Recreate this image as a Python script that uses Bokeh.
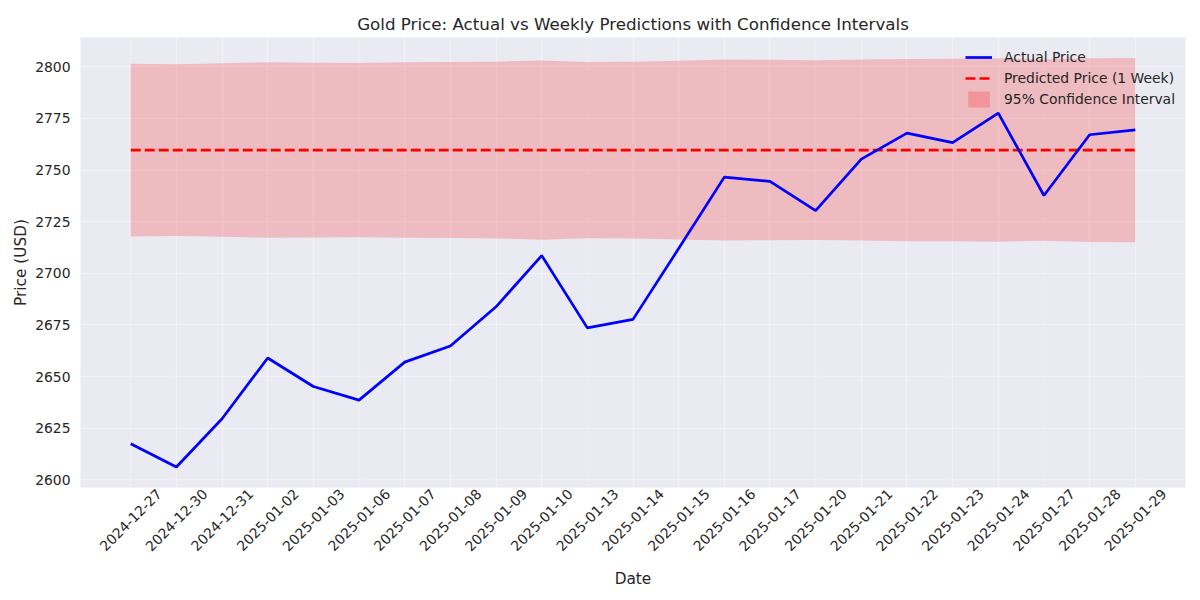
import math
from bokeh.plotting import figure
from bokeh.models import (Range1d, FixedTicker, LinearAxis, Grid, Legend, LegendItem,
                          ColumnDataSource)
from bokeh.embed import file_html
from bokeh.resources import INLINE

dates = ["2024-12-27", "2024-12-30", "2024-12-31", "2025-01-02", "2025-01-03", "2025-01-06",
         "2025-01-07", "2025-01-08", "2025-01-09", "2025-01-10", "2025-01-13", "2025-01-14",
         "2025-01-15", "2025-01-16", "2025-01-17", "2025-01-20", "2025-01-21", "2025-01-22",
         "2025-01-23", "2025-01-24", "2025-01-27", "2025-01-28", "2025-01-29"]
actual = [2617.5, 2606.2, 2629.6, 2659.0, 2645.2, 2638.6, 2657.0, 2664.8, 2683.8, 2708.6,
          2673.6, 2677.7, 2712.0, 2746.6, 2744.5, 2730.4, 2755.3, 2767.9, 2763.3, 2777.6,
          2737.7, 2767.1, 2769.5]
predicted = [2759.7, 2759.7, 2759.7, 2759.7, 2759.7, 2759.7, 2759.7, 2759.7, 2759.7, 2759.7,
             2759.7, 2759.7, 2759.7, 2759.7, 2759.7, 2759.7, 2759.7, 2759.7, 2759.7, 2759.7,
             2759.7, 2759.7, 2759.7]
ci_upper = [2801.5, 2801.3, 2801.7, 2802.2, 2802.0, 2801.9, 2802.2, 2802.3, 2802.5, 2803.1,
            2802.4, 2802.5, 2803.0, 2803.5, 2803.4, 2803.2, 2803.5, 2803.8, 2803.9, 2804.1,
            2803.6, 2804.2, 2804.3]
ci_lower = [2717.9, 2718.1, 2717.7, 2717.2, 2717.4, 2717.5, 2717.2, 2717.1, 2716.9, 2716.3,
            2717.0, 2716.9, 2716.4, 2715.9, 2716.0, 2716.2, 2715.9, 2715.6, 2715.5, 2715.3,
            2715.8, 2715.2, 2715.1]
y_ticks = [2600, 2625, 2650, 2675, 2700, 2725, 2750, 2775, 2800]

idx = list(range(len(dates)))
src = ColumnDataSource(dict(x=idx, actual=actual, pred=predicted, up=ci_upper, lo=ci_lower))

FONT = "DejaVu Sans"
TXT = "#262626"

n = len(dates) - 1
xpad = 0.05 * n
ymin = min(actual + ci_lower)
ymax = max(actual + ci_upper)
ypad = 0.05 * (ymax - ymin)

p = figure(width=1200, height=600, output_backend="svg", toolbar_location=None,
           x_range=Range1d(-xpad, n + xpad), y_range=Range1d(ymin - ypad, ymax + ypad),
           x_axis_location=None,
           min_border_left=80, min_border_right=15, min_border_top=37, min_border_bottom=113)
p.background_fill_color = "#EAEAF2"
p.border_fill_color = "white"
p.outline_line_color = None

p.title.text = "Gold Price: Actual vs Weekly Predictions with Confidence Intervals"
p.title.align = "center"
p.title.text_font = FONT
p.title.text_font_size = "16.7px"
p.title.text_font_style = "normal"
p.title.text_color = TXT
p.title.standoff = 8

# label axis, shifted so that rotated labels are centred on their ticks
d = 0.626
p.extra_x_ranges = {"lbl": Range1d(-xpad - d, n + xpad - d)}
xa = LinearAxis(x_range_name="lbl", ticker=FixedTicker(ticks=idx))
xa.major_label_overrides = {i: s for i, s in enumerate(dates)}
xa.major_label_orientation = math.pi / 4
xa.axis_label = "Date"
p.add_layout(xa, "below")

for ax in [xa, p.yaxis[0]]:
    ax.axis_line_color = None
    ax.major_tick_line_color = None
    ax.minor_tick_line_color = None
    ax.major_tick_out = 0
    ax.major_tick_in = 0
    ax.major_label_text_font = FONT
    ax.major_label_text_font_size = "13.9px"
    ax.major_label_text_color = TXT
    ax.axis_label_text_font = FONT
    ax.axis_label_text_font_size = "15.3px"
    ax.axis_label_text_font_style = "normal"
    ax.axis_label_text_color = TXT
xa.major_label_standoff = 4
xa.axis_label_standoff = 11

p.yaxis.ticker = FixedTicker(ticks=y_ticks)
p.yaxis.axis_label = "Price (USD)"
p.yaxis.major_label_standoff = 10
p.yaxis.axis_label_standoff = 2

p.ygrid.grid_line_color = "white"
p.ygrid.grid_line_alpha = 0.35
p.ygrid.grid_line_width = 1.4
xg = Grid(dimension=0, ticker=FixedTicker(ticks=idx), grid_line_color="white",
          grid_line_alpha=0.35, grid_line_width=1.4)
p.add_layout(xg)

band = p.varea(x="x", y1="lo", y2="up", source=src, fill_color="red", fill_alpha=0.2)
pl = p.line(x="x", y="pred", source=src, line_color="red", line_width=2.7, line_dash="10 4")
al = p.line(x="x", y="actual", source=src, line_color="blue", line_width=2.7)

legend = Legend(items=[LegendItem(label="Actual Price", renderers=[al]),
                       LegendItem(label="Predicted Price (1 Week)", renderers=[pl]),
                       LegendItem(label="95% Confidence Interval", renderers=[band])],
                location="top_right")
legend.background_fill_alpha = 0
legend.border_line_alpha = 0
legend.label_text_font = FONT
legend.label_text_font_size = "13.9px"
legend.label_text_color = TXT
legend.glyph_width = 27
legend.glyph_height = 20
legend.label_height = 20
legend.spacing = 1
legend.label_standoff = 12
legend.margin = 4
legend.padding = 6
p.add_layout(legend)

open("out.html", "w").write(file_html(p, INLINE))
